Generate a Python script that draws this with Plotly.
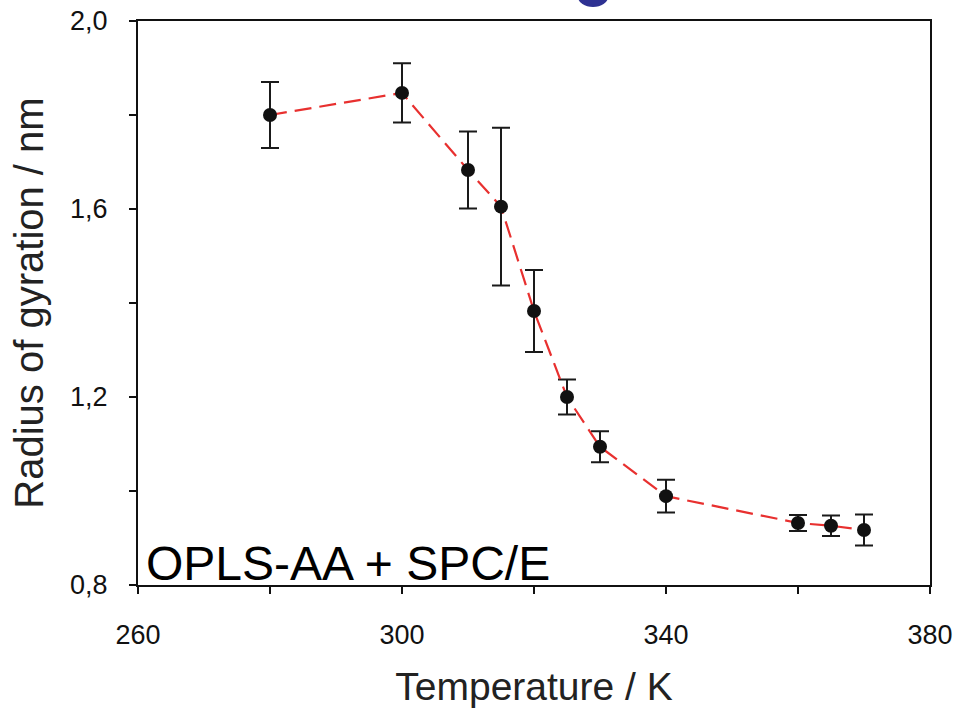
import plotly.graph_objects as go

# temperature (K) and radius of gyration (nm)
temperature = [280, 300, 310, 315, 320, 325, 330, 340, 360, 365, 370]
rg = [1.800, 1.847, 1.683, 1.605, 1.383, 1.200, 1.094, 0.989, 0.932, 0.926, 0.917]
rg_err = [0.070, 0.063, 0.082, 0.168, 0.087, 0.037, 0.033, 0.035, 0.017, 0.022, 0.033]

x_ticks = [260, 280, 300, 320, 340, 360, 380]
x_labels = ["260", "", "300", "", "340", "", "380"]
y_ticks = [0.8, 1.0, 1.2, 1.4, 1.6, 1.8, 2.0]
y_labels = ["0,8", "", "1,2", "", "1,6", "", "2,0"]

font = "Liberation Sans, Arial, sans-serif"

fig = go.Figure()
fig.add_trace(go.Scatter(
    x=temperature, y=rg,
    mode="lines+markers",
    line=dict(color="#e8302f", width=2.2, dash="17px,8px"),
    marker=dict(color="#111111", size=14),
    error_y=dict(type="data", array=rg_err, color="#1a1a1a", thickness=2, width=9),
    showlegend=False,
))

fig.add_annotation(
    text="OPLS-AA + SPC/E", xref="paper", yref="paper", x=0.008, y=-0.012,
    xanchor="left", yanchor="bottom", showarrow=False,
    font=dict(family=font, size=48, color="#000000"),
)
# bottom of a cut-off blue title letter peeking above the frame
fig.add_shape(
    type="circle", xref="paper", yref="paper",
    x0=0.5556, x1=0.5934, y0=1.0248, y1=1.06,
    fillcolor="#2e3192", line=dict(width=0),
)

axis_common = dict(
    showline=True, linecolor="#111111", linewidth=2, mirror=True,
    ticks="outside", ticklen=7, tickwidth=1.5, tickcolor="#111111",
    showgrid=False, zeroline=False, automargin=False,
    tickfont=dict(family=font, size=27, color="#111111"),
)

fig.update_xaxes(
    range=[260, 380], tickvals=x_ticks, ticktext=x_labels,
    ticklabelstandoff=18,
    title=dict(text="Temperature / K", font=dict(family=font, size=39, color="#222222"), standoff=24),
    **axis_common,
)
fig.update_yaxes(
    range=[0.8, 2.0], tickvals=y_ticks, ticktext=y_labels,
    ticklabelstandoff=16,
    title=dict(text="Radius of gyration / nm", font=dict(family=font, size=40, color="#222222"), standoff=14),
    **axis_common,
)

fig.update_layout(
    width=958, height=708,
    margin=dict(l=138, r=28, t=21, b=123),
    plot_bgcolor="white", paper_bgcolor="white",
    separators=",.",
)

# drop the browser's default page margin so the figure sits at the window corner
fig.write_html(
    "out.html",
    config={"displayModeBar": False},
    post_script="document.body.style.margin = '0';",
)
